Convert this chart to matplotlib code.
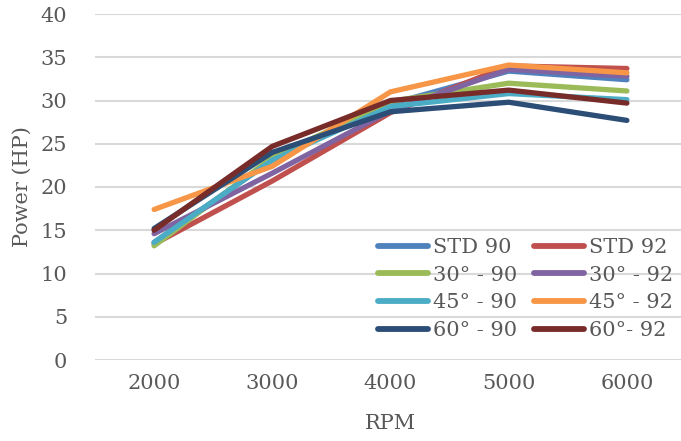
import matplotlib
matplotlib.use("Agg")
import matplotlib.pyplot as plt

rpm = ["2000", "3000", "4000", "5000", "6000"]

std_90 = [13.6, 23.1, 29.6, 33.4, 32.4]
std_92 = [13.4, 20.7, 28.6, 34.0, 33.7]
deg30_90 = [13.2, 23.4, 29.9, 32.0, 31.1]
deg30_92 = [14.6, 21.6, 28.8, 33.6, 32.8]
deg45_90 = [13.6, 23.1, 29.3, 30.8, 30.1]
deg45_92 = [17.4, 22.4, 31.0, 34.1, 33.2]
deg60_90 = [15.2, 24.0, 28.7, 29.8, 27.7]
deg60_92 = [15.0, 24.7, 30.0, 31.2, 29.7]

series = [
    ("STD 90", std_90, "#4F81BD"),
    ("STD 92", std_92, "#C0504D"),
    ("30° - 90", deg30_90, "#9BBB59"),
    ("30° - 92", deg30_92, "#8064A2"),
    ("45° - 90", deg45_90, "#4BACC6"),
    ("45° - 92", deg45_92, "#F79646"),
    ("60° - 90", deg60_90, "#2C4D75"),
    ("60°- 92", deg60_92, "#772C2A"),
]

plt.rcParams["font.family"] = ["DejaVu Serif"]
text_col = "#595959"
fs = 15

fig = plt.figure(figsize=(6.81, 4.41), dpi=100)
ax = fig.add_axes([95 / 681, 81 / 441, 591 / 681, 346 / 441])

x = list(range(len(rpm)))
lines = []
for name, vals, col in series:
    ln, = ax.plot(x, vals, color=col, lw=3.8, solid_capstyle="round",
                  solid_joinstyle="round", label=name)
    lines.append(ln)

ax.set_xlim(-0.5, len(rpm) - 0.5)
ax.set_ylim(0, 40)
ax.set_yticks(range(0, 41, 5))
ax.set_xticks(x)
ax.set_xticklabels(rpm)
ax.yaxis.grid(True, color="#D9D9D9", lw=1.5)
ax.set_axisbelow(True)
for s in ax.spines.values():
    s.set_visible(False)
ax.tick_params(length=0, labelsize=fs, colors=text_col)
ax.tick_params(axis="y", pad=20)
ax.tick_params(axis="x", pad=10)

ax.set_xlabel("RPM", fontsize=fs, color=text_col, labelpad=15)
ax.set_ylabel("Power (HP)", fontsize=fs, color=text_col, labelpad=6)

# legend is filled row by row in the reference
order = [0, 2, 4, 6, 1, 3, 5, 7]
leg = ax.legend([lines[i] for i in order], [series[i][0] for i in order],
                ncol=2, frameon=False, fontsize=fs, handlelength=2.4,
                handletextpad=0.25, columnspacing=0.8, labelspacing=0.42,
                loc="upper left", bbox_to_anchor=(378 / 681, 1 - 238 / 441),
                bbox_transform=fig.transFigure, borderpad=0, borderaxespad=0)
for t in leg.get_texts():
    t.set_color(text_col)
for h in leg.legend_handles:
    h.set_linewidth(4.2)
    h.set_solid_capstyle("round")

fig.savefig("out.png", dpi=100)
